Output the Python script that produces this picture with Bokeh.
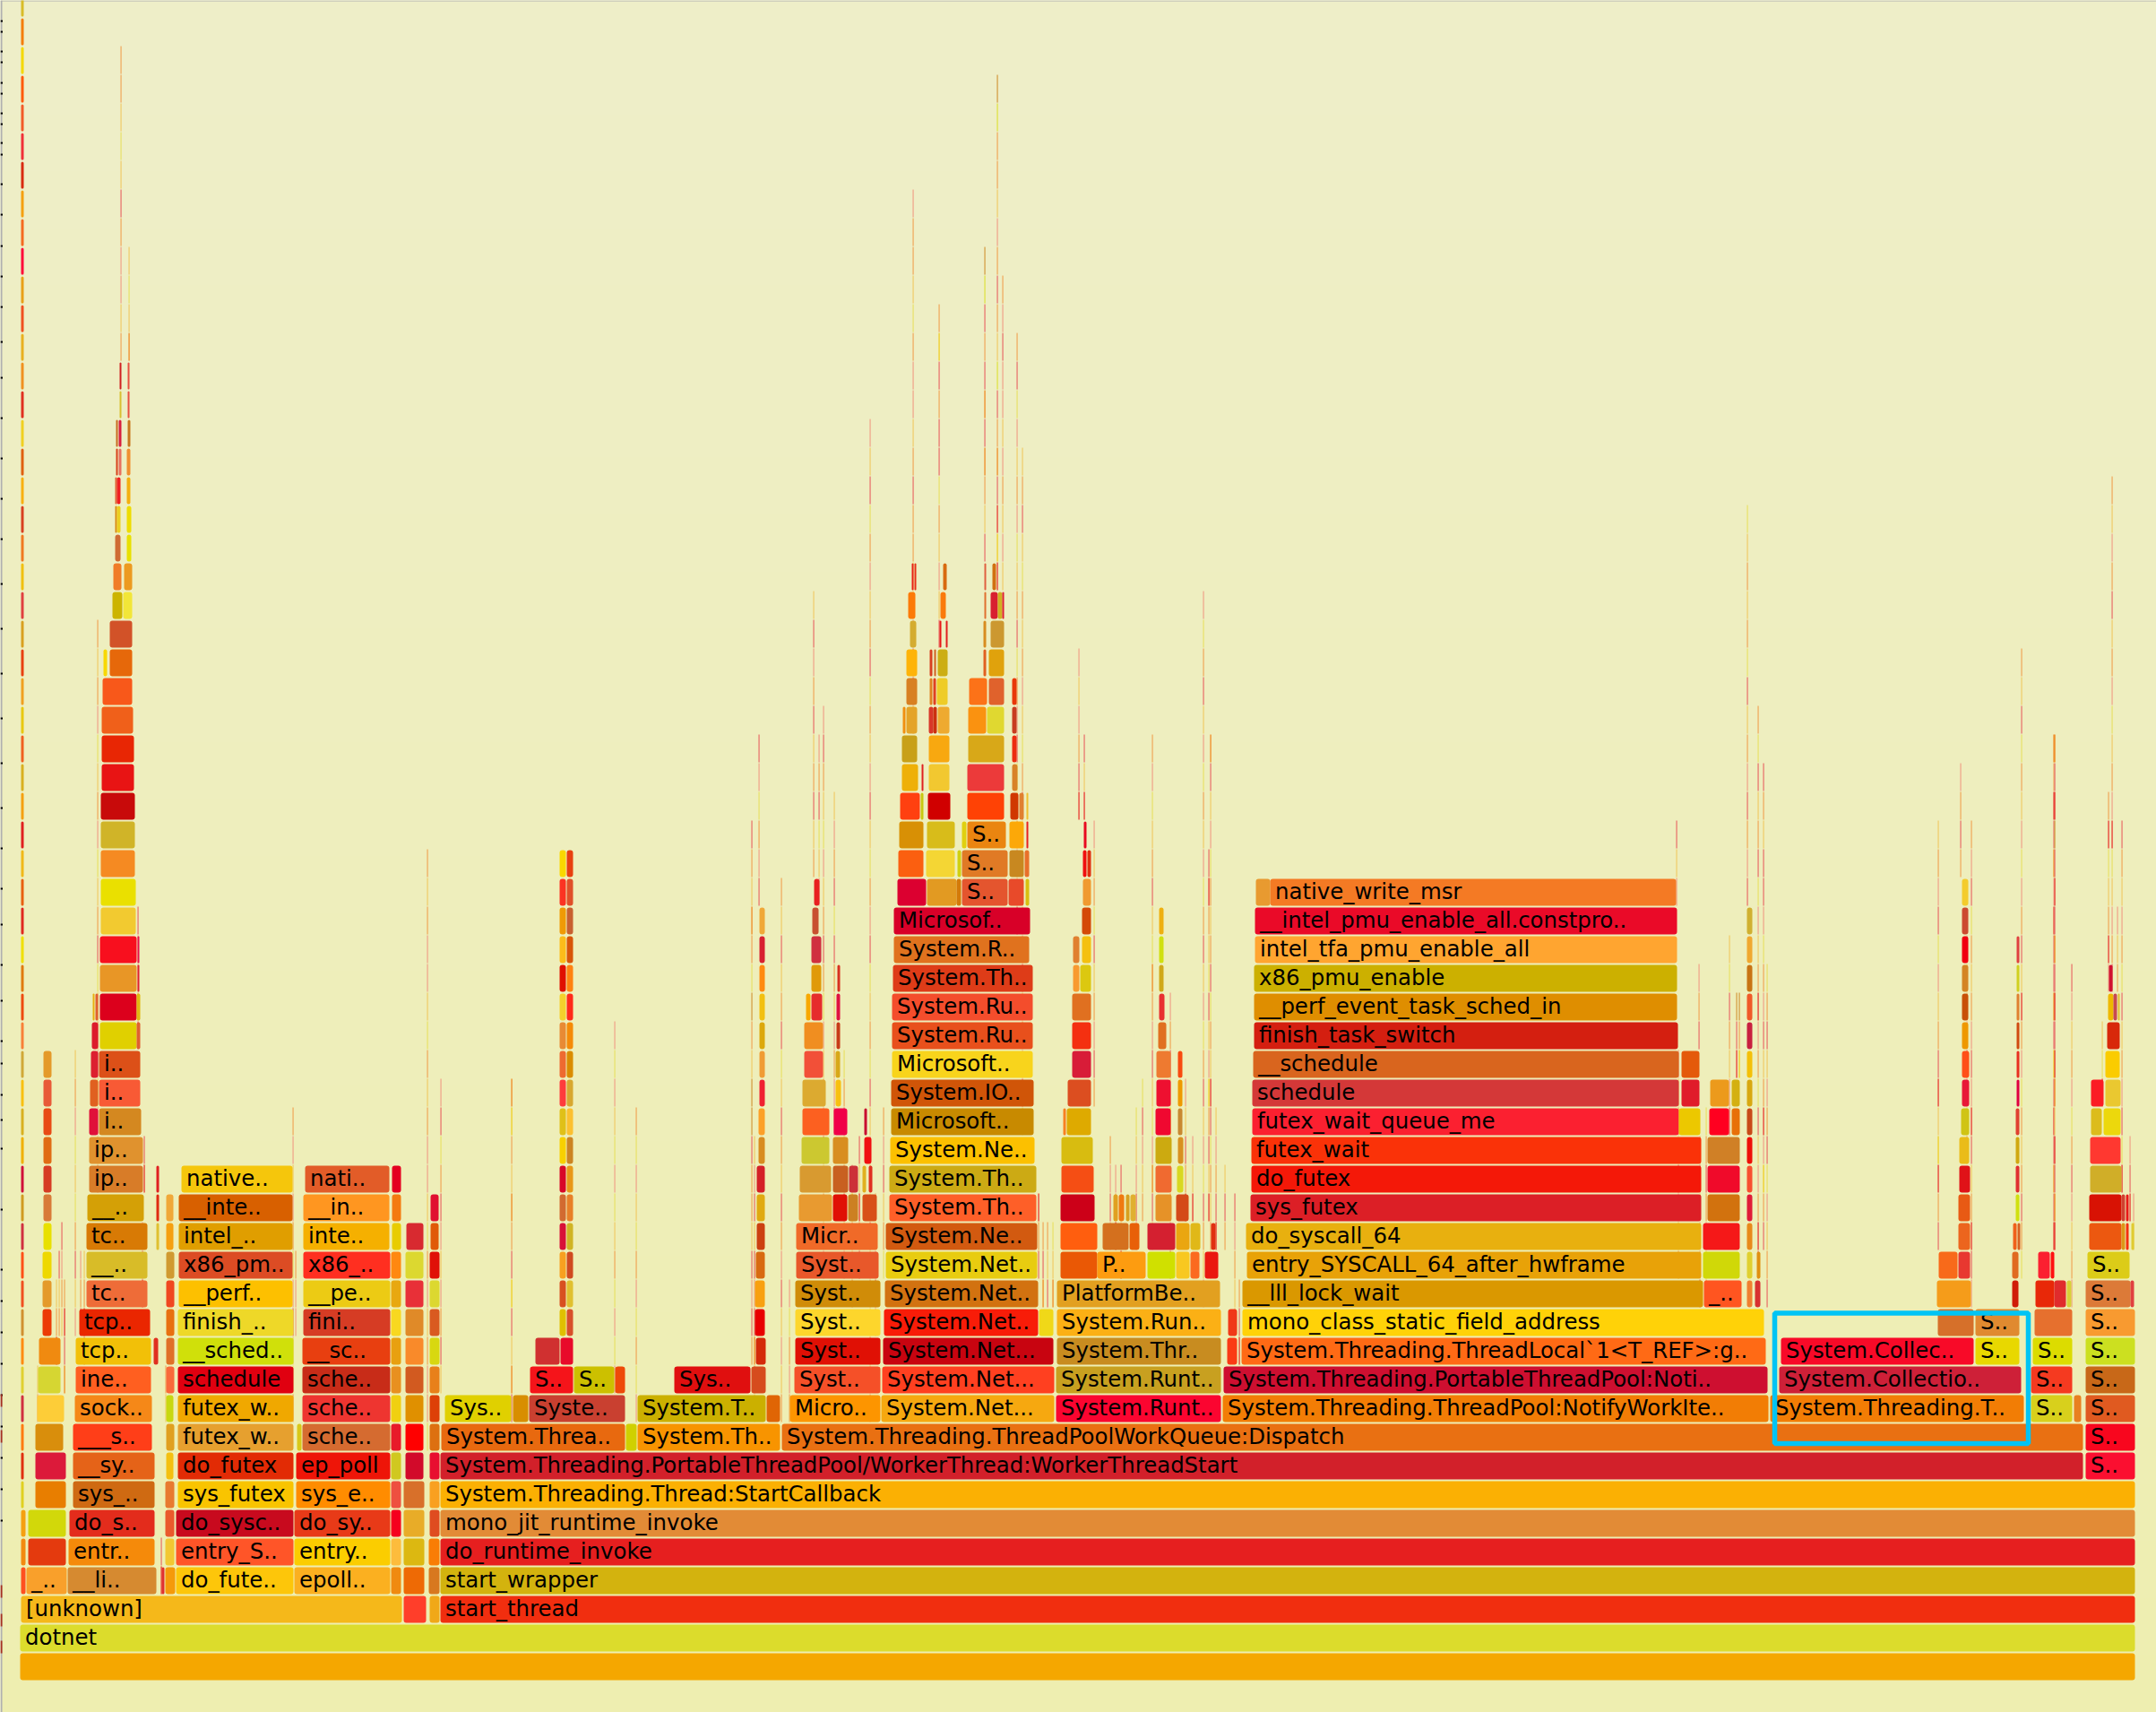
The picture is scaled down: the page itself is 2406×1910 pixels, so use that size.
from bokeh.plotting import figure
from bokeh.models import ColumnDataSource, Range1d
from bokeh.core.properties import value
from bokeh.embed import file_html
from bokeh.resources import INLINE

# Each frame: (first sample, last sample, colour, name); one list per stack depth.
level_00 = [(22, 2382, "#f5a700", "")]
level_01 = [(22, 2382, "#dcdc2c", "dotnet")]
level_02 = [(23, 448, "#f5b81a", "[unknown]"), (450, 475, "#ff3e2a", ""), (479, 490, "#f0a818", ""), (491, 2382, "#f12e0f", "start_thread")]
level_03 = [(23, 28, "#ff5020", ""), (29, 74, "#f9a02b", "_.."), (75, 174, "#d68a30", "__li.."), (180, 183, "#e03030", ""), (184, 195, "#f59a0a", ""), (196, 327, "#fdc60a", "do_fute.."), (328, 435, "#fbb020", "epoll.."), (436, 447, "#f08a10", ""), (450, 473, "#ee6a05", ""), (478, 490, "#d8781f", ""), (491, 2382, "#d3b30e", "start_wrapper")]
level_04 = [(23, 28, "#f28a10", ""), (31, 73, "#e43a0e", ""), (76, 172, "#f58a0a", "entr.."), (184, 194, "#f2c832", ""), (196, 327, "#ff5528", "entry_S.."), (328, 435, "#fbcd00", "entry.."), (436, 447, "#fdbc3c", ""), (450, 473, "#dcb811", ""), (478, 490, "#f97d05", ""), (491, 2382, "#e61f1f", "do_runtime_invoke")]
level_05 = [(23, 28, "#f5a010", ""), (31, 73, "#d2d80a", ""), (77, 172, "#e32c1c", "do_s.."), (184, 194, "#ea5a2c", ""), (196, 327, "#c80a1e", "do_sysc.."), (328, 435, "#e83a18", "do_sy.."), (436, 447, "#f5001e", ""), (450, 473, "#e8ac28", ""), (479, 490, "#df4c20", ""), (491, 2382, "#e28b36", "mono_jit_runtime_invoke")]
level_06 = [(23, 26, "#e0d020", ""), (39, 73, "#e87e00", ""), (81, 172, "#cf6a12", "sys_.."), (184, 194, "#e87a30", ""), (198, 327, "#f9c400", "sys_futex"), (330, 435, "#ff8c00", "sys_e.."), (436, 447, "#ee5040", ""), (450, 473, "#d8702a", ""), (479, 490, "#f9a020", ""), (491, 2382, "#fbb003", "System.Threading.Thread:StartCallback")]
level_07 = [(23, 26, "#e03010", ""), (39, 73, "#dc1a3a", ""), (81, 172, "#e56318", "__sy.."), (185, 193, "#f4c010", ""), (198, 327, "#e22b05", "do_futex"), (330, 435, "#ee1508", "ep_poll"), (436, 447, "#d0c820", ""), (452, 472, "#d20a2a", ""), (479, 490, "#e80f30", ""), (491, 2324, "#d2202a", "System.Threading.PortableThreadPool/WorkerThread:WorkerThreadStart"), (2327, 2382, "#fb0f30", "S..")]
level_08 = [(23, 26, "#ff7a10", ""), (39, 70, "#d98e0c", ""), (81, 169, "#ff3e18", "___s.."), (185, 194, "#e0a020", ""), (198, 327, "#e6a02f", "futex_w.."), (331, 336, "#d8c818", ""), (337, 435, "#d56b30", "sche.."), (436, 447, "#e81a2a", ""), (452, 472, "#ff0000", ""), (479, 490, "#dd7010", ""), (492, 697, "#e8690f", "System.Threa.."), (698, 710, "#d0d000", ""), (711, 870, "#f89400", "System.Th.."), (872, 2324, "#e97012", "System.Threading.ThreadPoolWorkQueue:Dispatch"), (2327, 2382, "#f8061e", "S..")]
level_09 = [(23, 26, "#d03040", ""), (41, 71, "#fdcd38", ""), (83, 169, "#f58818", "sock.."), (185, 193, "#c8d810", ""), (198, 327, "#f0a800", "futex_w.."), (337, 435, "#ee3530", "sche.."), (436, 447, "#f0d010", ""), (452, 472, "#e09000", ""), (479, 490, "#dd4008", ""), (496, 570, "#e0d000", "Sys.."), (572, 589, "#d88e00", ""), (590, 697, "#c94030", "Syste.."), (711, 854, "#cbb000", "System.T.."), (855, 870, "#e06505", ""), (881, 982, "#fd9500", "Micro.."), (983, 1176, "#f6a810", "System.Net..."), (1178, 1362, "#fb0530", "System.Runt.."), (1364, 1973, "#f27d05", "System.Threading.ThreadPool:NotifyWorkIte.."), (1975, 2258, "#f27d05", "System.Threading.T.."), (2266, 2312, "#d8d01c", "S.."), (2314, 2322, "#e88020", ""), (2327, 2382, "#e05a20", "S..")]
level_10 = [(23, 26, "#e0d030", ""), (42, 67, "#d6d632", ""), (84, 168, "#ff5f20", "ine.."), (185, 194, "#f96a3a", ""), (198, 327, "#e00010", "schedule"), (337, 435, "#c82c18", "sche.."), (436, 447, "#e89020", ""), (452, 472, "#d25a20", ""), (479, 490, "#e8801a", ""), (591, 639, "#f5141a", "S.."), (640, 685, "#ccc000", "S.."), (686, 697, "#ee4a08", ""), (752, 837, "#e00f0f", "Sys.."), (838, 854, "#d64c1e", ""), (886, 982, "#f55028", "Syst.."), (984, 1176, "#ff4020", "System.Net..."), (1178, 1362, "#c8a020", "System.Runt.."), (1365, 1972, "#ce0f30", "System.Threading.PortableThreadPool:Noti.."), (1985, 2255, "#ce2038", "System.Collectio.."), (2266, 2312, "#f53a20", "S.."), (2327, 2382, "#c86818", "S..")]
level_11 = [(23, 26, "#ff8a10", ""), (43, 67, "#f08a10", ""), (84, 168, "#f2c008", "tcp.."), (171, 176, "#e03020", ""), (185, 194, "#e07028", ""), (198, 327, "#d0e00a", "__sched.."), (337, 435, "#e83f10", "__sc.."), (436, 447, "#e8a010", ""), (452, 472, "#f98a2a", ""), (479, 490, "#d8d810", ""), (597, 624, "#d03030", ""), (625, 639, "#e80a2a", ""), (843, 854, "#d42a0a", ""), (887, 982, "#e01005", "Syst.."), (985, 1175, "#c80410", "System.Net..."), (1179, 1362, "#c88c20", "System.Thr.."), (1369, 1380, "#fa3a15", ""), (1385, 1970, "#ff6a15", "System.Threading.ThreadLocal`1<T_REF>:g.."), (1987, 2202, "#f80a28", "System.Collec.."), (2204, 2253, "#e8d800", "S.."), (2268, 2312, "#dcdc00", "S.."), (2327, 2382, "#cce020", "S..")]
level_12 = [(23, 26, "#d09030", ""), (47, 57, "#ec3a05", ""), (88, 167, "#ea2600", "tcp.."), (185, 194, "#e87010", ""), (198, 327, "#eed828", "finish_.."), (338, 435, "#d63c24", "fini.."), (436, 447, "#f8d820", ""), (452, 472, "#e08a28", ""), (479, 490, "#d95a20", ""), (624, 631, "#e0c000", ""), (632, 639, "#d8502a", ""), (842, 853, "#e80000", ""), (887, 982, "#fdd62c", "Syst.."), (986, 1158, "#f81c08", "System.Net.."), (1159, 1175, "#f0d818", ""), (1179, 1362, "#fbb015", "System.Run.."), (1370, 1380, "#f03818", ""), (1386, 1968, "#ffd208", "mono_class_static_field_address"), (2162, 2202, "#d6702a", ""), (2204, 2253, "#e08a30", "S.."), (2270, 2312, "#e6702e", ""), (2327, 2382, "#f89a30", "S..")]
level_13 = [(23, 26, "#f05020", ""), (47, 57, "#e49a2a", ""), (96, 164, "#ee6c38", "tc.."), (185, 194, "#f04820", ""), (199, 326, "#fdc000", "__perf.."), (338, 435, "#eccb14", "__pe.."), (436, 447, "#e8a810", ""), (452, 472, "#e83038", ""), (479, 490, "#dcd830", ""), (624, 631, "#d85020", ""), (632, 639, "#e0c030", ""), (842, 853, "#f8a010", ""), (887, 982, "#d08c08", "Syst.."), (987, 1158, "#d27210", "System.Net.."), (1179, 1361, "#e2a020", "PlatformBe.."), (1386, 1900, "#da9800", "__lll_lock_wait"), (1901, 1943, "#ff5520", "_.."), (1949, 1955, "#f08030", ""), (1958, 1964, "#d83030", ""), (2161, 2199, "#f59c1a", ""), (2245, 2252, "#d01c08", ""), (2271, 2292, "#e82808", ""), (2292, 2305, "#e02c2c", ""), (2306, 2311, "#d8d038", ""), (2327, 2377, "#dc7a38", "S.."), (2377, 2381, "#e04040", "")]
level_14 = [(23, 26, "#ff5018", ""), (47, 57, "#eed800", ""), (96, 164, "#d8bc28", "__.."), (185, 194, "#d09a30", ""), (199, 326, "#dc4c24", "x86_pm.."), (338, 435, "#ff2f20", "x86_.."), (436, 447, "#ff8810", ""), (452, 472, "#dcd830", ""), (479, 490, "#e01008", ""), (624, 631, "#f8a020", ""), (632, 639, "#d04a20", ""), (843, 853, "#d86a10", ""), (888, 980, "#e8582a", "Syst.."), (988, 1157, "#e8cc10", "System.Net.."), (1183, 1224, "#ea5805", ""), (1224, 1278, "#fd9c10", "P.."), (1280, 1311, "#d0e000", ""), (1312, 1327, "#f8c820", ""), (1328, 1338, "#fb6a20", ""), (1344, 1359, "#ea1810", ""), (1391, 1898, "#e8a208", "entry_SYSCALL_64_after_hwframe"), (1900, 1941, "#d0d808", ""), (1949, 1955, "#e0d030", ""), (1960, 1964, "#e09010", ""), (2163, 2184, "#f86a1a", ""), (2185, 2198, "#e83830", ""), (2245, 2252, "#e06a20", ""), (2274, 2287, "#fb2030", ""), (2288, 2292, "#ff1010", ""), (2329, 2376, "#dccc18", "S..")]
level_15 = [(23, 26, "#d03040", ""), (48, 57, "#e8e000", ""), (96, 164, "#d87a05", "tc.."), (174, 177, "#e0c030", ""), (185, 193, "#f5a010", ""), (199, 326, "#e09e00", "intel_.."), (338, 434, "#f5b000", "inte.."), (437, 447, "#e8cc00", ""), (453, 472, "#d82a30", ""), (480, 489, "#e05a08", ""), (624, 631, "#d81038", ""), (632, 639, "#d0b424", ""), (844, 853, "#cc4010", ""), (888, 979, "#f06a28", "Micr.."), (988, 1157, "#d25a10", "System.Ne.."), (1183, 1224, "#ff5e0e", ""), (1230, 1259, "#d4701e", ""), (1260, 1271, "#e86008", ""), (1280, 1311, "#d42030", ""), (1312, 1327, "#eaa610", ""), (1328, 1339, "#e0b818", ""), (1351, 1356, "#e03010", ""), (1390, 1898, "#e8b00f", "do_syscall_64"), (1900, 1941, "#f51818", ""), (1949, 1955, "#e88a1a", ""), (2185, 2198, "#ec651e", ""), (2246, 2250, "#f0601a", ""), (2251, 2254, "#d86020", ""), (2331, 2367, "#ec5810", ""), (2367, 2371, "#dc9818", ""), (2372, 2375, "#f43010", ""), (2378, 2381, "#e0cc30", "")]
level_16 = [(23, 26, "#d09a20", ""), (48, 57, "#d87a38", ""), (97, 160, "#d4a006", "__.."), (174, 177, "#e02a10", ""), (185, 193, "#f0a838", ""), (199, 326, "#d86000", "__inte.."), (338, 434, "#ff9620", "__in.."), (437, 447, "#f47a10", ""), (480, 489, "#e01030", ""), (624, 631, "#d26a30", ""), (632, 639, "#e88028", ""), (844, 853, "#e0aa10", ""), (891, 928, "#e89a30", ""), (929, 945, "#e01005", ""), (946, 957, "#cc8022", ""), (962, 978, "#d85018", ""), (992, 1156, "#fe5f28", "System.Th.."), (1183, 1221, "#cc0018", ""), (1242, 1247, "#e0a020", ""), (1248, 1254, "#f07a10", ""), (1256, 1260, "#d8a020", ""), (1261, 1267, "#e0b030", ""), (1289, 1307, "#e69228", ""), (1312, 1326, "#d44a18", ""), (1395, 1898, "#dc1f26", "sys_futex"), (1905, 1941, "#d2720e", ""), (1949, 1955, "#e01c38", ""), (2185, 2198, "#e85a14", ""), (2249, 2253, "#d0e010", ""), (2331, 2367, "#d81204", ""), (2367, 2371, "#d04030", ""), (2372, 2375, "#e81818", "")]
level_17 = [(23, 26, "#d0103a", ""), (48, 57, "#d63c24", ""), (99, 159, "#d87c28", "ip.."), (174, 177, "#e02020", ""), (202, 326, "#f5c60c", "native.."), (340, 434, "#e25c28", "nati.."), (437, 447, "#e40020", ""), (624, 631, "#d80828", ""), (632, 639, "#e89818", ""), (844, 853, "#d42028", ""), (892, 927, "#d89a30", ""), (929, 946, "#c86020", ""), (947, 957, "#cc3038", ""), (962, 966, "#e0b020", ""), (969, 973, "#e03020", ""), (992, 1156, "#ccaa14", "System.Th.."), (1184, 1220, "#f54e14", ""), (1289, 1307, "#f06a30", ""), (1313, 1320, "#d8d820", ""), (1396, 1898, "#f41808", "do_futex"), (1905, 1941, "#f00a2a", ""), (1949, 1955, "#f85030", ""), (2186, 2198, "#e01218", ""), (2249, 2253, "#e03030", ""), (2332, 2367, "#d0ae28", "")]
level_18 = [(23, 26, "#f0b000", ""), (48, 57, "#e06c14", ""), (99, 159, "#e0922e", "ip.."), (624, 631, "#f8d000", ""), (632, 639, "#cc8422", ""), (846, 853, "#d88c20", ""), (894, 925, "#ccc830", ""), (929, 946, "#d88e20", ""), (964, 972, "#f01010", ""), (993, 1154, "#fcc000", "System.Ne.."), (1184, 1219, "#d8bc10", ""), (1289, 1307, "#ccaa10", ""), (1314, 1320, "#d89020", ""), (1396, 1898, "#fa3208", "futex_wait"), (1905, 1941, "#d08026", ""), (1949, 1955, "#ee1008", ""), (2186, 2197, "#eabc18", ""), (2249, 2253, "#d0a810", ""), (2332, 2366, "#ff3830", "")]
level_19 = [(23, 26, "#d8b020", ""), (48, 57, "#e84a14", ""), (99, 109, "#e0103a", ""), (110, 157, "#d48820", "i.."), (624, 631, "#e0c018", ""), (632, 639, "#fcc030", ""), (846, 853, "#fca028", ""), (895, 925, "#fc6020", ""), (930, 945, "#f00048", ""), (964, 967, "#c80a30", ""), (994, 1153, "#c88a00", "Microsoft.."), (1186, 1189, "#f88020", ""), (1190, 1217, "#deaa00", ""), (1289, 1306, "#f00830", ""), (1314, 1319, "#c88830", ""), (1397, 1873, "#fb2030", "futex_wait_queue_me"), (1873, 1897, "#ecc800", ""), (1907, 1929, "#ff0020", ""), (1932, 1941, "#e87008", ""), (1949, 1955, "#c84a18", ""), (2188, 2197, "#d0c414", ""), (2249, 2253, "#e04030", ""), (2333, 2345, "#dcbc1c", ""), (2347, 2366, "#ecd80c", "")]
level_20 = [(23, 26, "#f8c010", ""), (48, 57, "#e85a38", ""), (100, 109, "#e06020", ""), (110, 156, "#f85a35", "i.."), (624, 631, "#fe3c3c", ""), (632, 639, "#d8a830", ""), (847, 853, "#f02030", ""), (895, 921, "#dcaa30", ""), (932, 938, "#f8c010", ""), (994, 1153, "#d05508", "System.IO.."), (1191, 1217, "#dc4e20", ""), (1290, 1306, "#ee1030", ""), (1314, 1319, "#ee9a00", ""), (1397, 1873, "#d43838", "schedule"), (1876, 1896, "#e01c2a", ""), (1908, 1929, "#ec9a1c", ""), (1932, 1941, "#d4b010", ""), (1949, 1955, "#d8a810", ""), (2189, 2197, "#e81838", ""), (2250, 2253, "#e00040", ""), (2333, 2347, "#fb1c24", ""), (2349, 2366, "#eac830", "")]
level_21 = [(23, 26, "#d0a838", ""), (48, 57, "#e49a2a", ""), (101, 109, "#dc2030", ""), (110, 156, "#dc5018", "i.."), (624, 631, "#ee6a30", ""), (632, 639, "#da8c00", ""), (847, 853, "#f09c34", ""), (897, 918, "#f25038", ""), (932, 937, "#d8a818", ""), (995, 1152, "#f8d41c", "Microsoft.."), (1196, 1217, "#d81c38", ""), (1290, 1306, "#ee7a30", ""), (1314, 1319, "#f84a10", ""), (1398, 1873, "#d9651e", "__schedule"), (1876, 1896, "#e45a0a", ""), (1949, 1955, "#f4c008", ""), (2189, 2197, "#ff5018", ""), (2250, 2253, "#e83020", ""), (2349, 2365, "#facc00", "")]
level_22 = [(23, 26, "#f88038", ""), (102, 109, "#dc1c2c", ""), (111, 152, "#e0d000", ""), (152, 156, "#e06030", ""), (624, 631, "#e88a34", ""), (632, 639, "#f58a08", ""), (847, 853, "#dca80c", ""), (897, 918, "#f08e20", ""), (933, 937, "#c83a18", ""), (995, 1152, "#e8501c", "System.Ru.."), (1196, 1217, "#f43010", ""), (1292, 1301, "#e07020", ""), (1399, 1872, "#d41f10", "finish_task_switch"), (1949, 1955, "#c82040", ""), (2189, 2196, "#ee9800", ""), (2250, 2253, "#d04a10", ""), (2351, 2365, "#d8280a", "")]
level_23 = [(23, 26, "#ee4a10", ""), (103, 105, "#e8b010", ""), (106, 109, "#e06030", ""), (111, 152, "#dc001c", ""), (152, 156, "#e0b810", ""), (624, 631, "#f4d02c", ""), (632, 639, "#ff2a1a", ""), (847, 853, "#f2c010", ""), (899, 904, "#f8a800", ""), (905, 917, "#e62c2c", ""), (933, 937, "#e01040", ""), (995, 1152, "#f44d2c", "System.Ru.."), (1196, 1217, "#e07020", ""), (1293, 1299, "#e83030", ""), (1399, 1871, "#df8e00", "__perf_event_task_sched_in"), (1949, 1955, "#f05a28", ""), (2189, 2196, "#c85008", ""), (2250, 2253, "#e08030", ""), (2352, 2358, "#eeb800", ""), (2358, 2362, "#c84850", ""), (2363, 2365, "#e0c030", "")]
level_24 = [(23, 26, "#e07a10", ""), (111, 152, "#e89626", ""), (153, 155, "#e02030", ""), (624, 631, "#e01000", ""), (632, 639, "#ff8210", ""), (847, 853, "#ff8a10", ""), (905, 916, "#e09a0a", ""), (934, 937, "#d83020", ""), (996, 1152, "#de3c18", "System.Th.."), (1197, 1204, "#f89a30", ""), (1205, 1217, "#dcc810", ""), (1293, 1298, "#d0a818", ""), (1399, 1871, "#ccb000", "x86_pmu_enable"), (1949, 1955, "#c87414", ""), (2189, 2196, "#d48424", ""), (2250, 2253, "#d0d020", ""), (2353, 2357, "#d01030", "")]
level_25 = [(23, 26, "#f0e000", ""), (111, 152, "#f80f1e", ""), (153, 155, "#e8104a", ""), (624, 631, "#fcbc1a", ""), (632, 639, "#d85508", ""), (847, 853, "#d82030", ""), (905, 916, "#d03040", ""), (997, 1148, "#e0721e", "System.R.."), (1197, 1204, "#e08030", ""), (1207, 1217, "#f4c010", ""), (1293, 1298, "#d0e010", ""), (1400, 1871, "#ffa530", "intel_tfa_pmu_enable_all"), (1949, 1955, "#f0a830", ""), (2189, 2196, "#f00010", ""), (2250, 2253, "#e04040", "")]
level_26 = [(23, 26, "#e02820", ""), (112, 151, "#f2ca30", ""), (624, 631, "#f09a05", ""), (632, 639, "#c86030", ""), (847, 853, "#f0a838", ""), (906, 913, "#c85030", ""), (997, 1149, "#d80028", "Microsof.."), (1207, 1217, "#d44a08", ""), (1293, 1298, "#eeb010", ""), (1400, 1871, "#ea0a28", "__intel_pmu_enable_all.constpro.."), (1949, 1955, "#d0b030", ""), (2189, 2196, "#cc4a30", "")]
level_27 = [(23, 26, "#e86010", ""), (112, 151, "#eae000", ""), (624, 631, "#fb3322", ""), (632, 639, "#e0502a", ""), (908, 914, "#e82020", ""), (1001, 1033, "#dc0030", ""), (1034, 1067, "#e29a22", ""), (1067, 1072, "#d47a08", ""), (1073, 1124, "#e4552e", "S.."), (1125, 1142, "#e84a2a", ""), (1144, 1148, "#d8c010", ""), (1208, 1217, "#f09a30", ""), (1401, 1417, "#e89a30", ""), (1417, 1870, "#f47a24", "native_write_msr"), (2189, 2196, "#f4cc2c", "")]
level_28 = [(23, 26, "#f0b818", ""), (112, 150, "#f58a22", ""), (624, 631, "#fad800", ""), (632, 639, "#e84010", ""), (1002, 1030, "#fb5f10", ""), (1033, 1065, "#f4d634", ""), (1068, 1072, "#d0d010", ""), (1073, 1124, "#e07a25", "S.."), (1126, 1142, "#c88820", ""), (1143, 1148, "#e8702a", ""), (1208, 1212, "#f01010", ""), (1213, 1217, "#e03010", "")]
level_29 = [(23, 26, "#e02020", ""), (112, 150, "#d0b428", ""), (1003, 1030, "#d89005", ""), (1034, 1065, "#d8bc1a", ""), (1073, 1078, "#e0d010", ""), (1079, 1122, "#ea8510", "S.."), (1126, 1142, "#fca808", ""), (1145, 1147, "#e82020", ""), (1209, 1212, "#e80a20", "")]
level_30 = [(23, 26, "#f5a010", ""), (112, 150, "#c80a0a", ""), (1004, 1026, "#ff4010", ""), (1027, 1030, "#c8c810", ""), (1035, 1060, "#d00000", ""), (1079, 1120, "#ff4205", ""), (1127, 1136, "#d03800", ""), (1137, 1142, "#e08030", ""), (1145, 1147, "#f0c030", "")]
level_31 = [(23, 26, "#d8b020", ""), (113, 149, "#e81414", ""), (1006, 1024, "#eeb008", ""), (1028, 1030, "#e02020", ""), (1036, 1059, "#f2c830", ""), (1079, 1120, "#ec3a3a", ""), (1129, 1135, "#d88228", "")]
level_32 = [(23, 26, "#f06020", ""), (113, 149, "#e82604", ""), (1006, 1023, "#c8a018", ""), (1036, 1059, "#f8a810", ""), (1080, 1120, "#d8a818", ""), (1129, 1134, "#ec2c10", "")]
level_33 = [(23, 26, "#e8c810", ""), (113, 148, "#f0601a", ""), (1007, 1010, "#f09010", ""), (1011, 1023, "#e4a428", ""), (1036, 1041, "#d83828", ""), (1041, 1045, "#cc3010", ""), (1046, 1059, "#eeaa30", ""), (1080, 1100, "#fa9210", ""), (1101, 1120, "#e0d830", ""), (1129, 1134, "#c83c20", "")]
level_34 = [(23, 26, "#f0a020", ""), (114, 147, "#f8581a", ""), (1011, 1023, "#d88022", ""), (1037, 1040, "#e08020", ""), (1041, 1044, "#e04020", ""), (1045, 1057, "#eecc28", ""), (1081, 1101, "#fc7218", ""), (1103, 1120, "#e0622c", ""), (1129, 1134, "#e83808", "")]
level_35 = [(23, 26, "#e84010", ""), (115, 119, "#f8d800", ""), (122, 147, "#e6680a", ""), (1011, 1023, "#feb408", ""), (1037, 1040, "#d84020", ""), (1042, 1044, "#d06020", ""), (1046, 1057, "#ccae14", ""), (1097, 1100, "#e06020", ""), (1103, 1120, "#e0a20c", "")]
level_36 = [(23, 26, "#d8a020", ""), (122, 147, "#d25228", ""), (1015, 1022, "#d4ac30", ""), (1048, 1050, "#e81818", ""), (1055, 1057, "#e02020", ""), (1097, 1100, "#d88c20", ""), (1105, 1120, "#cc9830", "")]
level_37 = [(23, 26, "#e04040", ""), (125, 136, "#ccb400", ""), (137, 147, "#f2e638", ""), (1013, 1021, "#fc7a08", ""), (1049, 1055, "#fa7a0c", ""), (1098, 1100, "#e07030", ""), (1105, 1113, "#d82030", ""), (1113, 1118, "#d0b020", ""), (1118, 1120, "#e02030", "")]
level_38 = [(23, 26, "#f0c010", ""), (126, 135, "#f07c28", ""), (138, 147, "#ec9a20", ""), (1017, 1019, "#e82018", ""), (1020, 1022, "#e83018", ""), (1052, 1056, "#d86a10", ""), (1098, 1100, "#e06040", ""), (1107, 1111, "#d07010", "")]
level_39 = [(23, 26, "#f07820", ""), (128, 134, "#cf6c34", ""), (141, 146, "#e8e000", "")]
level_40 = [(23, 26, "#d84020", ""), (128, 130, "#d88a10", ""), (130, 134, "#eccf20", ""), (141, 146, "#eedc00", "")]
level_41 = [(23, 26, "#f8b010", ""), (128, 130, "#e06030", ""), (130, 134, "#f02020", ""), (141, 145, "#f4b010", "")]
level_42 = [(23, 26, "#e06010", ""), (129, 131, "#d8401a", ""), (132, 135, "#e87060", ""), (141, 145, "#f09030", "")]
level_43 = [(23, 26, "#f0d020", ""), (129, 131, "#c86a20", ""), (132, 135, "#d82040", ""), (142, 145, "#c87820", "")]
level_44 = [(23, 26, "#e03020", ""), (133, 135, "#d8c030", ""), (142, 144, "#e85040", "")]
level_45 = [(23, 26, "#f09020", ""), (133, 135, "#d02020", ""), (142, 144, "#e85040", "")]
level_46 = [(23, 26, "#e8b020", "")]
level_47 = [(23, 26, "#f05020", "")]
level_48 = [(23, 26, "#e8a018", "")]
level_49 = [(23, 26, "#ff0a3a", "")]
level_50 = [(23, 26, "#f56a20", "")]
level_51 = [(23, 26, "#f5a010", "")]
level_52 = [(23, 26, "#d82a10", "")]
level_53 = [(23, 26, "#f03038", "")]
level_54 = [(23, 26, "#f25a28", "")]
level_55 = [(23, 26, "#ff5a0a", "")]
level_56 = [(23, 26, "#f5d800", "")]
level_57 = [(23, 26, "#f57d0a", "")]
level_58 = [(23, 26, "#d8bc28", "")]

levels = [level_00, level_01, level_02, level_03, level_04, level_05, level_06, level_07, level_08, level_09,
          level_10, level_11, level_12, level_13, level_14, level_15, level_16, level_17, level_18, level_19,
          level_20, level_21, level_22, level_23, level_24, level_25, level_26, level_27, level_28, level_29,
          level_30, level_31, level_32, level_33, level_34, level_35, level_36, level_37, level_38, level_39,
          level_40, level_41, level_42, level_43, level_44, level_45, level_46, level_47, level_48, level_49,
          level_50, level_51, level_52, level_53, level_54, level_55, level_56, level_57, level_58]

# One-sample stacks too thin to label: (sample, lowest depth, colour letter per depth going up)
thin_colours = {"r": "#e86060", "p": "#f09a84", "o": "#f0a050", "a": "#f0c860", "y": "#e8e060", "g": "#dce030",
                "R": "#e81818", "O": "#f07808", "Y": "#f0c808", "d": "#d09030"}
thin_stacks = [
    (41, 9, "oa"), (62, 11, "Roa"), (65, 12, "oar"), (68, 12, "aopr"), (71, 10, "OrRo"), (83, 12, "paroyaypoa"),
    (89, 12, "rop"), (93, 11, "rRoa"), (108, 17, "oapypoayroaypoaypoao"), (153, 22, "roppr"), (158, 13, "Rrp"),
    (160, 17, "Rr"), (134, 46, "oapporayaoo"), (143, 46, "Oaya"), (179, 3, "Rr"), (184, 9, "ao"),
    (326, 9, "oyarpyopapo"), (329, 12, "ppo"), (476, 8, "yppoapoyappoaoyappoao"), (491, 10, "aropaproyrp"),
    (570, 9, "rOarYroOaoYO"), (685, 10, "pypyoaypyapyp"), (709, 9, "pyoypoyapyo"),
    (838, 11, "orpraoorddaodyoOaor"), (841, 9, "aoOrprarpa"), (846, 27, "rpoypr"), (871, 9, "oaparporaorayroarao"),
    (880, 9, "opoyp"), (907, 28, "oaroaropra"), (913, 27, "payrop"), (918, 14, "paoyrpoapyoroapyaorp"), (930, 19, "rpopaoryropa"),
    (941, 14, "paroaroy"), (950, 13, "oaoYp"), (958, 14, "roRar"), (970, 9, "paoyparyoparyoayrpoyarpaoyroapoyrap"),
    (976, 12, "prpyo"), (985, 14, "yoarpo"), (1018, 33, "orrpayooroappoyaoop"), (1047, 36, "rapaoyrrorYo"),
    (1098, 39, "raoOrOrorgd"), (1112, 38, "RYRrOorgaoropaoogd"), (1118, 38, "apaopapprpo"),
    (1134, 26, "rapoayrpoyroaypoapyro"), (1140, 19, "yrpoarpaoyaroyapoaoyaroa"), (1158, 14, "roR"), (1163, 13, "Oro"),
    (1168, 13, "rao"), (1174, 13, "Oay"), (1203, 30, "Rropap"), (1209, 30, "Rar"), (1220, 20, "orpoaryoap"),
    (1238, 15, "prpo"), (1244, 15, "Rop"), (1250, 14, "Rapr"), (1267, 15, "prpay"), (1274, 16, "oapry"),
    (1285, 15, "arOpyarpoOyaroaypo"), (1305, 14, "rpoapYarop"), (1322, 16, "Rorap"), (1330, 16, "Rap"),
    (1342, 13, "paoryparoyparoypaoyparoyp"), (1348, 16, "RaroYparyaoRr"), (1350, 14, "aoaoyrRaoyroaoyparO"),
    (1356, 15, "Rropa"), (1366, 15, "ora"), (1377, 12, "oaopr"), (1382, 11, "Rro"), (1870, 27, "par"),
    (1872, 14, "oapryoap"), (1895, 22, "rop"), (1903, 13, "oaporoy"), (1896, 13, "roparo"), (1929, 19, "rpaorya"),
    (1937, 21, "Rrd"), (1940, 21, "Yod"), (1949, 27, "rporpoaryoaoay"), (1961, 14, "rRoparyopRoapyroaryo"), (1967, 15, "roYpRoarpoyprraor"),
    (1971, 13, "roapyroparoy"), (2162, 15, "roRYaRroapyrpoa"), (2187, 28, "orop"), (2194, 18, "oyprpoap"),
    (2199, 13, "prRoarRprpoaoyrpo"), (2255, 14, "yoroaoypoRaropypaoyrao"), (2311, 13, "poaproypoapr"),
    (2291, 15, "RrOrRrYrOrrRpOrRoO"), (2292, 15, "ROrRaORrRrOrRrdRrO"),
    (2345, 20, "Rya"), (2352, 24, "pRoayRo"), (2356, 24, "ropayRpoaypoaropao"), (2362, 24, "oap"), (2367, 17, "Ryrpoaryopaor"),
    (2376, 16, "Rrp"), (2380, 15, "ap"),
]

# The highlight box around the selected frames, and the marks along the page's left edge
highlight_box = {"left": 1980, "right": 2263, "top": 12.8, "bottom": 8.25}
edge_marks = [22, 34, 56, 68, 91, 103, 125, 137, 158, 171, 204, 238, 273, 307, 341, 380, 420, 465, 510, 555, 600, 650, 700, 750, 800, 850, 900, 945, 990, 1030, 1075, 1115, 1160, 1185, 1220, 1248, 1280, 1348, 1415, 1450, 1485, 1520, 1555, 1590, 1625, 1660, 1695]
edge_red_marks = [1555, 1595, 1768, 1800, 1830]

ROW = 32
ZERO_PX = 1874


def px_to_level(y):
    return (ZERO_PX - y) / ROW


p = figure(width=2406, height=1910, output_backend="svg", toolbar_location=None,
           x_range=Range1d(0, 2406), y_range=Range1d(px_to_level(1910), px_to_level(0)),
           min_border=0, outline_line_color=None, x_axis_type=None, y_axis_type=None,
           background_fill_color="#f0f0b2", border_fill_color="#f0f0b2")
p.grid.visible = False

# page background: pale gradient down the flame graph
bands = 30
band_l, band_r, band_t, band_b, band_c = [], [], [], [], []
for i in range(bands):
    b = 200 - int((200 - 176) * i / (bands - 1))
    band_l.append(0)
    band_r.append(2406)
    band_t.append(px_to_level(i * 1910 / bands))
    band_b.append(px_to_level((i + 1) * 1910 / bands + 1))
    band_c.append("#eeee%02x" % b)
p.quad(left=band_l, right=band_r, top=band_t, bottom=band_b, fill_color=band_c, line_color=None)

# edge marks
p.quad(left=[0], right=[2], top=[px_to_level(0)], bottom=[px_to_level(1910)], fill_color="#b0b0b0", line_color=None)
p.quad(left=[0], right=[2406], top=[px_to_level(0)], bottom=[px_to_level(1)], fill_color="#b0b0b0", line_color=None)
p.quad(left=[0] * len(edge_marks), right=[2.5] * len(edge_marks),
       top=[px_to_level(y) for y in edge_marks], bottom=[px_to_level(y + 2) for y in edge_marks],
       fill_color="#000000", line_color=None)
p.quad(left=[0] * len(edge_red_marks), right=[2] * len(edge_red_marks),
       top=[px_to_level(y) for y in edge_red_marks], bottom=[px_to_level(y + 14) for y in edge_red_marks],
       fill_color="#a83020", line_color=None)

# thin one-sample frames
tl, tr, tb, tt, tc = [], [], [], [], []
for x, base, letters in thin_stacks:
    for k, ch in enumerate(letters):
        level = base + k
        tl.append(x)
        tr.append(x + 1.1)
        tb.append(level)
        tt.append(level + 0.97)
        tc.append(thin_colours[ch])
p.quad(left=tl, right=tr, bottom=tb, top=tt, fill_color=tc, line_color=None)

# labelled frames
fl, fr, fb, ft, fc, lx, ly, lt = [], [], [], [], [], [], [], []
for level, frames in enumerate(levels):
    for start, stop, colour, name in frames:
        fl.append(start)
        fr.append(stop)
        fb.append(level)
        ft.append(level + 30 / ROW)
        fc.append(colour)
        if name:
            lx.append(start + 5.5)
            ly.append(level + 16.5 / ROW)
            lt.append(name)
src = ColumnDataSource(dict(l=fl, r=fr, b=fb, t=ft, c=fc))
p.quad(left="l", right="r", bottom="b", top="t", fill_color="c", line_color=None, border_radius=3, source=src)

p.text(x=lx, y=ly, text=lt, text_color="#000000", text_font=value("DejaVu Sans"), text_font_size="24.4px",
       text_baseline="alphabetic", text_align="left")

p.quad(left=[highlight_box["left"]], right=[highlight_box["right"]], top=[highlight_box["top"]],
       bottom=[highlight_box["bottom"]], fill_alpha=0, line_color="#00c4f4", line_width=5.5)

html = file_html(p, INLINE)
html = html.replace("<head>", "<head><style>html,body{margin:0;padding:0;overflow:hidden}</style>", 1)
open("out.html", "w").write(html)
